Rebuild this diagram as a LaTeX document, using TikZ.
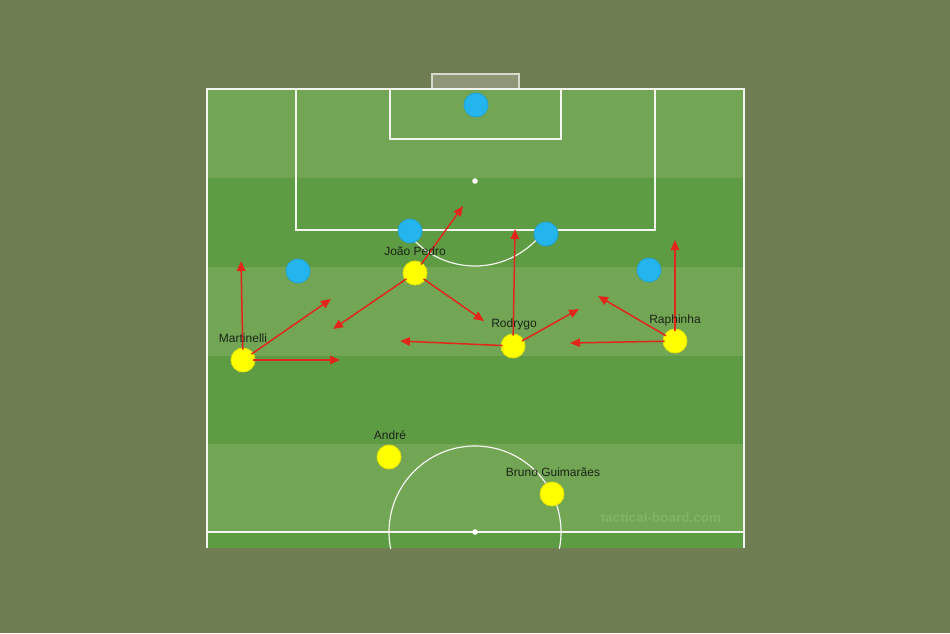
\documentclass[tikz,border=0pt]{standalone}
\usepackage{fontspec}
\setmainfont{Liberation Sans}
\usetikzlibrary{arrows.meta}
\definecolor{bg}{HTML}{6F7D52}
\definecolor{lightg}{HTML}{72A654}
\definecolor{darkg}{HTML}{5E9C43}
\definecolor{arr}{HTML}{E3261A}
\definecolor{opp}{HTML}{25B5EE}
\definecolor{oppb}{HTML}{1FA2D6}
\definecolor{own}{HTML}{FFFF00}
\definecolor{ownb}{HTML}{E6E600}
\definecolor{goalc}{HTML}{8E9678}
\definecolor{goalb}{HTML}{D6DACB}
\definecolor{txt}{HTML}{1C2418}
\definecolor{wm}{HTML}{80B466}
\definecolor{pl}{HTML}{F2F5EE}
\tikzset{
  pline/.style={draw=pl, line width=1.2pt},
  oppdot/.style={circle, fill=opp, draw=oppb, line width=0.8pt, minimum size=24pt, inner sep=0pt},
  owndot/.style={circle, fill=own, draw=ownb, line width=0.8pt, minimum size=24pt, inner sep=0pt},
  lab/.style={text=txt, font=\fontsize{12}{14}\selectfont, inner sep=0pt},
  run/.style={draw=arr, line width=1.5pt, -{Triangle[length=10pt, width=8.5pt]}, shorten <=-2pt},
}
\begin{document}
\begin{tikzpicture}[x=1pt,y=-1pt]
\fill[bg] (0,0) rectangle (950,633);
\useasboundingbox (0,0) rectangle (950,633);
% stripes
\fill[lightg] (207,89) rectangle (744,178);
\fill[darkg] (207,178) rectangle (744,267);
\fill[lightg] (207,267) rectangle (744,356);
\fill[darkg] (207,356) rectangle (744,444);
\fill[lightg] (207,444) rectangle (744,532);
\fill[darkg] (207,532) rectangle (744,548);
% goal
\draw[draw=goalb, fill=goalc, line width=1.2pt] (432,89) rectangle (519,74);
% lines
\draw[pline] (207,548) -- (207,89) -- (744,89) -- (744,548);
\draw[pline] (207,532) -- (744,532);
\draw[pline] (296,89) -- (296,230) -- (655,230) -- (655,89);
\draw[pline] (390,89) -- (390,139) -- (561,139) -- (561,89);
\fill[white] (475,181) circle[radius=2.8pt];
\fill[white] (475,532) circle[radius=2.8pt];
\begin{scope}
\clip (207,230) rectangle (744,300);
\draw[pline] (475,181) circle[radius=85pt];
\end{scope}
\begin{scope}
\clip (207,430) rectangle (744,548);
\draw[pline] (475,532) circle[radius=86pt];
\end{scope}
% watermark
\node[text=wm, font=\bfseries\fontsize{13.5}{15}\selectfont, inner sep=0pt] (wmark) at (661,518) {tactical-board.com};
% opponents
\node[oppdot] (gk) at (476,105) {};
\node[oppdot] (o1) at (410,231) {};
\node[oppdot] (o2) at (546,234) {};
\node[oppdot] (o3) at (298,271) {};
\node[oppdot] (o4) at (649,270) {};
% run targets
\coordinate (m1) at (241,261);
\coordinate (m2) at (331,299);
\coordinate (m3) at (340,360);
\coordinate (j1) at (463,206);
\coordinate (j2) at (333,329);
\coordinate (j3) at (484,321);
\coordinate (r1) at (515,229);
\coordinate (r2) at (579,309);
\coordinate (r3) at (400,341);
\coordinate (p1) at (675,240);
\coordinate (p2) at (598,296);
\coordinate (p3) at (570,343);
% own players
\node[owndot] (mart) at (243,360) {};
\node[owndot] (jp) at (415,273) {};
\node[owndot] (rod) at (513,346) {};
\node[owndot] (raph) at (675,341) {};
\node[owndot] (andre) at (389,457) {};
\node[owndot] (bruno) at (552,494) {};
% runs
\draw[run] (mart) -- (m1);
\draw[run] (mart) -- (m2);
\draw[run] (mart) -- (m3);
\draw[run] (jp) -- (j1);
\draw[run] (jp) -- (j2);
\draw[run] (jp) -- (j3);
\draw[run] (rod) -- (r1);
\draw[run] (rod) -- (r2);
\draw[run] (rod) -- (r3);
\draw[run] (raph) -- (p1);
\draw[run] (raph) -- (p2);
\draw[run] (raph) -- (p3);
% labels
\node[lab] (martl) at (243,338) {Martinelli};
\node[lab] (jpl) at (415,251) {João Pedro};
\node[lab] (rodl) at (514,324) {Rodrygo};
\node[lab] (raphl) at (675,320) {Raphinha};
\node[lab] (andrel) at (390,435) {André};
\node[lab] (brunol) at (553,472) {Bruno Guimarães};
\end{tikzpicture}
\end{document}
